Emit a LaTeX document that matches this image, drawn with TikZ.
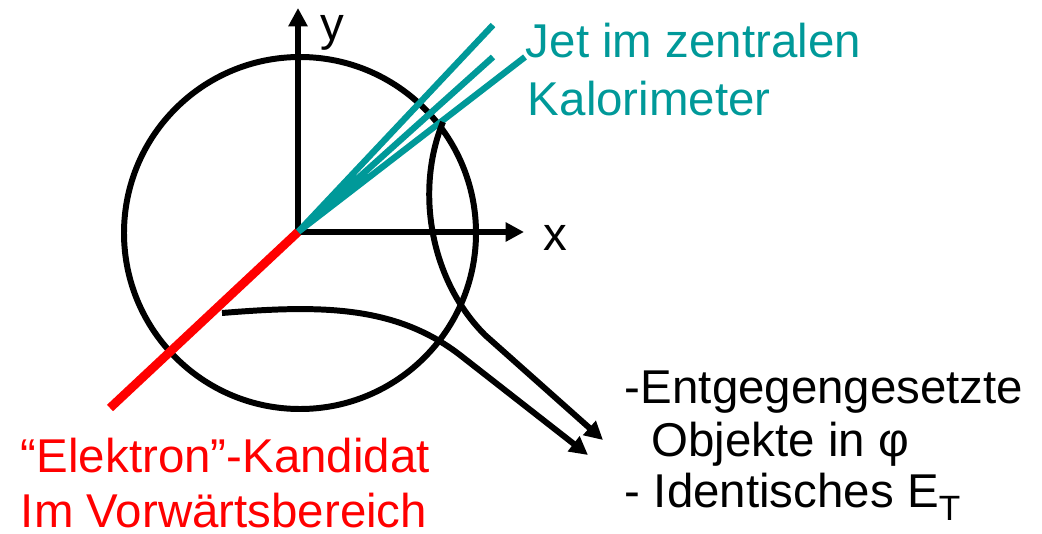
\documentclass[tikz,border=0pt]{standalone}
\usepackage{fontspec}
\setmainfont{Liberation Sans}
\usepackage{tikz}
\usetikzlibrary{arrows.meta,calc}
\definecolor{jetcol}{RGB}{0,153,153}

\begin{document}
\begin{tikzpicture}[>={Triangle[length=5.2pt,width=5.2pt]}, line width=1.7pt,
	lbl/.style={anchor=base west, inner sep=0pt, font=\fontsize{13.5}{16.5}\selectfont}]
			\useasboundingbox (0,0) rectangle (10.42,-5.34);
			\coordinate (o) at (2.98,-2.32);
			\draw (3.00,-2.33) circle (1.76);
			% axes
			\draw[->] (o) -- (2.98,-0.08);
			\draw[->] (o) -- (5.24,-2.32);
			\node[lbl] (ylab) at (3.18,-0.40) {y};
			\node[lbl] (xlab) at (5.41,-2.50) {x};
			% jet
			\coordinate (j1) at (4.93,-0.25);
			\coordinate (j2) at (4.93,-0.57);
			\coordinate (j3) at (5.25,-0.57);
			\draw[jetcol, line width=1.8pt] (o) -- (j1) (o) -- (j2) (o) -- (j3);
			% electron
			\coordinate (e) at (1.10,-4.08);
			\draw[red, line width=2.5pt] (o) -- (e);
			% arrows
			\coordinate (a1) at (4.43,-1.22);
			\coordinate (a2) at (2.22,-3.13);
			\draw[->] (a1) .. controls (4.15,-1.90) and (4.30,-2.80) .. (4.85,-3.35) -- (6.03,-4.40);
			\draw[->] (a2) .. controls (3.20,-3.05) and (3.95,-3.05) .. (4.60,-3.55) -- (5.88,-4.55);
			% labels
			\node[lbl, text=jetcol] (jet1) at (5.23,-0.57) {Jet im zentralen};
			\node[lbl, text=jetcol] (jet2) at (5.25,-1.15) {Kalorimeter};
			\node[lbl, text=red] (el1) at (0.18,-4.72) {“Elektron”-Kandidat};
			\node[lbl, text=red] (el2) at (0.18,-5.27) {Im Vorwärtsbereich};
			\node[lbl] (t1) at (6.22,-4.03) {-Entgegengesetzte};
			\node[lbl] (t2) at (6.22,-4.56) {\ \ Objekte in φ};
			\node[lbl] (t3) at (6.22,-5.07) {- Identisches E\raisebox{-0.13cm}{\fontsize{10}{10}\selectfont T}};
		\end{tikzpicture}
\end{document}
